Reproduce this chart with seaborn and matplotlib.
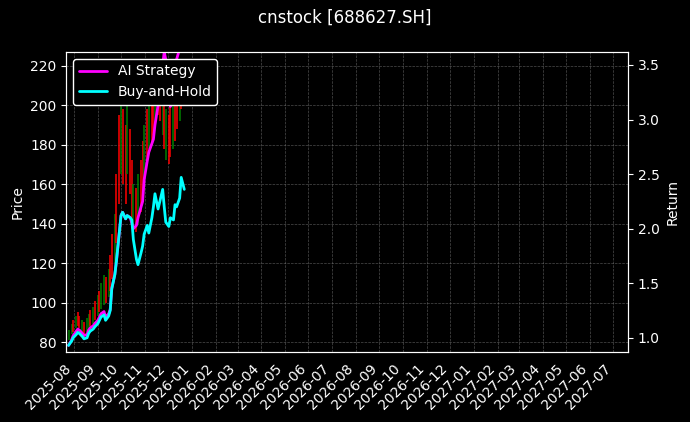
import numpy as np
import pandas as pd
import matplotlib
matplotlib.use("Agg")
import matplotlib.pyplot as plt
import matplotlib.dates as mdates
import seaborn as sns

dates = pd.bdate_range("2025-07-25", periods=54, freq="2B")

price_low = [81, 84, 85, 87, 88, 87, 85, 84, 85, 87, 88, 89, 91, 93, 95, 97, 99, 100, 103, 106,
             112, 120, 130, 150, 165, 160, 150, 165, 155, 140, 138, 136, 140, 146, 155, 160, 172, 178, 180, 185,
             190, 195, 192, 185, 178, 172, 170, 174, 178, 182, 188, 192, 198, 202]
price_high = [86, 89, 91, 93, 95, 93, 91, 90, 92, 94, 96, 98, 101, 104, 106, 110, 114, 113, 117, 124,
              135, 145, 165, 195, 200, 198, 190, 200, 188, 172, 160, 158, 165, 172, 182, 190, 198, 205, 210, 212,
              218, 222, 218, 212, 205, 198, 195, 200, 205, 210, 215, 218, 222, 222]
price_up = [1, 1, 0, 1, 0, 0, 1, 0, 1, 1, 0, 1, 0, 1, 0, 1, 1, 0, 1, 0,
            0, 1, 0, 0, 1, 0, 0, 1, 0, 0, 1, 0, 1, 0, 0, 1, 0, 1, 0, 0,
            1, 0, 0, 1, 0, 1, 0, 0, 1, 0, 0, 1, 0, 0]

bh_return = [0.93, 0.97, 1.00, 1.03, 1.05, 1.04, 1.01, 0.99, 1.00, 1.04, 1.06, 1.08, 1.10, 1.13, 1.16, 1.19, 1.21, 1.16, 1.20, 1.25,
             1.45, 1.58, 1.70, 1.98, 2.12, 2.15, 2.09, 2.12, 2.10, 2.08, 1.90, 1.72, 1.67, 1.78, 1.84, 1.95, 2.03, 1.96, 2.10, 2.20,
             2.32, 2.18, 2.24, 2.36, 2.20, 2.06, 2.02, 2.10, 2.08, 2.22, 2.20, 2.28, 2.47, 2.36]
ai_return = [0.93, 0.98, 1.02, 1.06, 1.08, 1.07, 1.04, 1.02, 1.03, 1.07, 1.09, 1.11, 1.13, 1.16, 1.19, 1.22, 1.24, 1.19, 1.22, 1.26,
             1.45, 1.58, 1.70, 1.98, 2.12, 2.15, 2.09, 2.12, 2.10, 2.05, 2.00, 2.03, 2.10, 2.20, 2.25, 2.45, 2.62, 2.70, 2.78, 2.82,
             2.95, 3.13, 3.30, 3.50, 3.62, 3.55, 3.35, 3.12, 3.20, 3.40, 3.55, 3.65, 3.70, 3.72]

sns.set_style("dark")
plt.rcParams.update({"figure.facecolor": "black", "axes.facecolor": "black",
                     "text.color": "white", "axes.labelcolor": "white",
                     "xtick.color": "white", "ytick.color": "white",
                     "axes.edgecolor": "white"})
plt.rcParams["font.family"] = ["DejaVu Sans"]

fig, ax = plt.subplots(figsize=(6.9, 4.22), dpi=100)
fig.subplots_adjust(left=0.096, right=0.91, top=0.877, bottom=0.166)

colors = ["green" if u else "red" for u in price_up]
ax.vlines(dates, price_low, price_high, colors=colors, linewidth=1.3, alpha=0.85)
ax.set_ylim(75, 227)
ax.set_ylabel("Price")
ax.grid(True, color="gray", linestyle="--", linewidth=0.5, alpha=0.6)

ax2 = ax.twinx()
df = pd.DataFrame({"date": dates, "ai": ai_return, "bh": bh_return})
sns.lineplot(data=df, x="date", y="ai", ax=ax2, color="magenta", linewidth=2, label="AI Strategy")
sns.lineplot(data=df, x="date", y="bh", ax=ax2, color="cyan", linewidth=2, label="Buy-and-Hold")
ax2.set_ylim(0.87, 3.62)
ax2.set_ylabel("Return")
ax2.set_xlabel("")
leg = ax2.legend(loc="upper left", facecolor="black", edgecolor="white", framealpha=1)
for t in leg.get_texts():
    t.set_color("white")

ax.set_xlim(pd.Timestamp("2025-07-22"), pd.Timestamp("2027-07-20"))
ax.xaxis.set_major_locator(mdates.MonthLocator())
ax.xaxis.set_major_formatter(mdates.DateFormatter("%Y-%m"))
plt.setp(ax.get_xticklabels(), rotation=45, ha="right")
ax.set_xlabel("")
for a in (ax, ax2):
    for s in a.spines.values():
        s.set_color("white")

fig.suptitle("cnstock [688627.SH]", color="white", fontsize=12)
fig.savefig("out.png", dpi=100, facecolor="black")
